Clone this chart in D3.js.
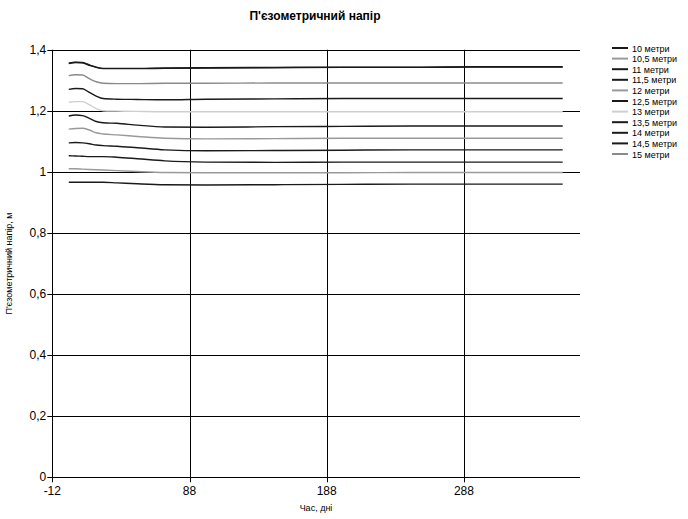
<!DOCTYPE html>
<html><head>
<meta charset="utf-8">
<title>П'єзометричний напір</title>
<script src="https://d3js.org/d3.v7.min.js"></script>
<style>
  body { margin: 0; background: #fff; }
  text { font-family: "Liberation Sans Narrow", "Liberation Sans", Arial, sans-serif; fill: #000; }
  .grid { stroke: #000; stroke-width: 1px; }
</style>
</head>
<body>
<svg id="chart" width="688" height="519"></svg>
<script>
// Days at which the curves are sampled
const days = [0, 5, 10, 15, 20, 25, 35, 50, 70, 100, 150, 200, 250, 300, 360];

// Series names (legend order) and colours
const names = ["10 метри", "10,5 метри", "11 метри", "11,5 метри", "12 метри", "12,5 метри",
               "13 метри", "13,5 метри", "14 метри", "14,5 метри", "15 метри"];
const colors = ["#1a1a1a", "#9a9a9a", "#1a1a1a", "#1a1a1a", "#999999", "#1a1a1a",
                "#cfcfcf", "#1a1a1a", "#1a1a1a", "#1a1a1a", "#8a8a8a"];

// Head values, one array per depth
const h10   = [0.966, 0.966, 0.966, 0.966, 0.966, 0.966, 0.964, 0.961, 0.958, 0.957, 0.958, 0.959, 0.960, 0.960, 0.960];
const h10_5 = [1.010, 1.010, 1.009, 1.008, 1.007, 1.006, 1.004, 1.001, 0.998, 0.997, 0.997, 0.997, 0.998, 0.998, 0.998];
const h11   = [1.053, 1.052, 1.051, 1.050, 1.050, 1.050, 1.048, 1.043, 1.036, 1.032, 1.031, 1.032, 1.032, 1.032, 1.032];
const h11_5 = [1.095, 1.096, 1.095, 1.092, 1.088, 1.086, 1.084, 1.079, 1.072, 1.069, 1.070, 1.071, 1.072, 1.072, 1.072];
const h12   = [1.140, 1.142, 1.143, 1.137, 1.128, 1.124, 1.121, 1.116, 1.110, 1.108, 1.109, 1.110, 1.110, 1.110, 1.110];
const h12_5 = [1.183, 1.186, 1.184, 1.175, 1.165, 1.161, 1.159, 1.153, 1.147, 1.146, 1.148, 1.149, 1.150, 1.150, 1.150];
const h13   = [1.228, 1.230, 1.230, 1.220, 1.207, 1.200, 1.199, 1.198, 1.197, 1.197, 1.197, 1.197, 1.197, 1.197, 1.197];
const h13_5 = [1.270, 1.273, 1.272, 1.260, 1.248, 1.240, 1.238, 1.237, 1.236, 1.238, 1.239, 1.240, 1.240, 1.240, 1.240];
const h14   = [1.355, 1.358, 1.357, 1.349, 1.342, 1.338, 1.338, 1.338, 1.339, 1.340, 1.341, 1.342, 1.342, 1.343, 1.343];
const h14_5 = [1.356, 1.359, 1.358, 1.350, 1.343, 1.339, 1.339, 1.339, 1.340, 1.341, 1.342, 1.343, 1.343, 1.344, 1.344];
const h15   = [1.315, 1.318, 1.317, 1.305, 1.295, 1.290, 1.289, 1.289, 1.290, 1.290, 1.291, 1.291, 1.291, 1.291, 1.291];

const seriesValues = [h10, h10_5, h11, h11_5, h12, h12_5, h13, h13_5, h14, h14_5, h15];

// Axis ticks
const xTicks = [-12, 88, 188, 288];
const yTicks = [0, 0.2, 0.4, 0.6, 0.8, 1.0, 1.2, 1.4];

const svg = d3.select("#chart");
const plotLeft = 52.3, plotRight = 580, plotTop = 49.7, plotBottom = 477.3;

const x = d3.scaleLinear().domain([-12, 372.6]).range([plotLeft, plotRight]);
const y = d3.scaleLinear().domain([0, 1.4]).range([plotBottom, plotTop]);

const fmt = v => String(+v.toFixed(1)).replace(".", ",");

// Horizontal grid + y ticks
svg.append("g").selectAll("line").data(yTicks).join("line")
   .attr("class", "grid")
   .attr("x1", plotLeft - 5).attr("x2", plotRight)
   .attr("y1", d => Math.round(y(d)) + 0.5).attr("y2", d => Math.round(y(d)) + 0.5);
svg.append("g").selectAll("text").data(yTicks).join("text")
   .attr("x", plotLeft - 6).attr("y", d => y(d) + 4)
   .attr("text-anchor", "end").attr("font-size", 12)
   .text(fmt);

// Vertical grid + x ticks (the first is the y axis line)
svg.append("g").selectAll("line").data(xTicks).join("line")
   .attr("class", "grid")
   .attr("x1", d => Math.round(x(d)) + 0.5).attr("x2", d => Math.round(x(d)) + 0.5)
   .attr("y1", plotTop).attr("y2", plotBottom + 5);
svg.append("g").selectAll("text").data(xTicks).join("text")
   .attr("x", d => x(d)).attr("y", plotBottom + 18)
   .attr("text-anchor", "middle").attr("font-size", 12)
   .text(d => d);

// Lines
const line = d3.line()
   .x((d, i) => x(days[i]))
   .y(d => y(d))
   .curve(d3.curveMonotoneX);

svg.append("g").selectAll("path").data(seriesValues).join("path")
   .attr("fill", "none")
   .attr("stroke", (d, i) => colors[i])
   .attr("stroke-width", 1.4)
   .attr("d", line);

// Title and axis labels
svg.append("text").attr("x", 315).attr("y", 20)
   .attr("text-anchor", "middle").attr("font-size", 12).attr("font-weight", "bold")
   .text("П'єзометричний напір");
svg.append("text").attr("x", 316).attr("y", 511)
   .attr("text-anchor", "middle").attr("font-size", 9)
   .text("Час, дні");
svg.append("text")
   .attr("transform", "translate(12," + ((plotTop + plotBottom) / 2) + ") rotate(-90)")
   .attr("text-anchor", "middle").attr("font-size", 9)
   .text("П'єзометричний напір, м");

// Legend
const legend = svg.append("g").selectAll("g").data(names).join("g")
   .attr("transform", (d, i) => "translate(612," + (48 + i * 10.6) + ")");
legend.append("line")
   .attr("x1", 0).attr("x2", 16)
   .attr("stroke", (d, i) => colors[i]).attr("stroke-width", 2);
legend.append("text")
   .attr("x", 20).attr("y", 3.5).attr("font-size", 9)
   .text(d => d);
</script>
</body>
</html>
